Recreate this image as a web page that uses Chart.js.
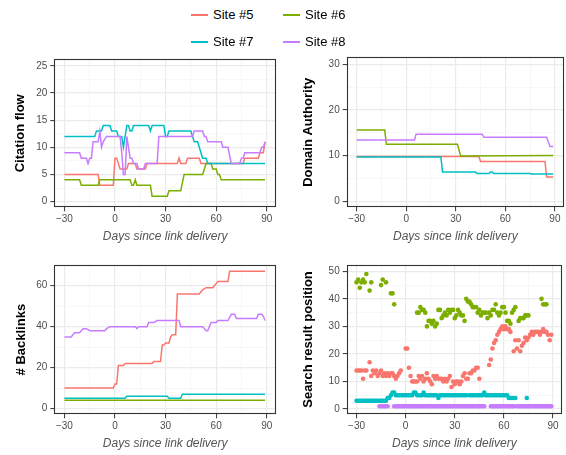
<!DOCTYPE html>
<html>
<head>
<meta charset="utf-8">
<script src="https://cdn.jsdelivr.net/npm/chart.js@4.4.1/dist/chart.umd.min.js"></script>
<style>
  body { margin: 0; background: #fff; }
  #wrap { position: relative; width: 566px; height: 455px; font-family: 'Liberation Sans', Arial, sans-serif; }
  canvas { position: absolute; }
  .key { position: absolute; font-size: 13px; line-height: 16px; color: #000; white-space: nowrap; z-index: 2; }
  .key i { position: absolute; left: 0; top: 7px; width: 17px; height: 2px; }
</style>
</head>
<body>
<div id="wrap">
  <div id="legend"></div>
  <canvas id="cf" width="283" height="205" style="left:0;top:45px"></canvas>
  <canvas id="da" width="283" height="205" style="left:283px;top:45px"></canvas>
  <canvas id="bl" width="283" height="205" style="left:0;top:250px"></canvas>
  <canvas id="sr" width="283" height="205" style="left:283px;top:250px"></canvas>
</div>
<script>
// sites and their colours
const sites = ['Site #5', 'Site #6', 'Site #7', 'Site #8'];
const siteColors = ['#F8766D', '#7CAE00', '#00BFC4', '#C77CFF'];

// x axis: days since link delivery
const dayTicks = [-30, -15, 0, 15, 30, 45, 60, 75, 90];
const dayLabels = [-30, 0, 30, 60, 90];

// y axis ticks per panel (labels = major ticks)
const cfTicks = [0, 2.5, 5, 7.5, 10, 12.5, 15, 17.5, 20, 22.5, 25];
const cfLabels = [0, 5, 10, 15, 20, 25];
const daTicks = [0, 5, 10, 15, 20, 25, 30];
const daLabels = [0, 10, 20, 30];
const blTicks = [0, 10, 20, 30, 40, 50, 60];
const blLabels = [0, 20, 40, 60];
const srTicks = [0, 5, 10, 15, 20, 25, 30, 35, 40, 45, 50];
const srLabels = [0, 10, 20, 30, 40, 50];

// Citation flow, [day, value] where the value changes
const cfSite5 = [[-30,5],[-10,5],[-9,3],[-1,3],[0,8],[1,8],[3,6],[7,6],[8,7],[12,7],[13,6],[18,6],[19,7],[37,7],[38,8],[39,7],[42,7],[43,8],[50,8],[51,7],[76,7],[77,8],[85,8],[86,9],[88,9],[89,11]];
const cfSite6 = [[-30,4],[-21,4],[-20,3],[-10,3],[-9,4],[9,4],[10,3],[11,3],[12,4],[13,3],[21,3],[22,1],[31,1],[32,2],[39,2],[41,5],[52,5],[54,7],[57,7],[58,6],[60,6],[61,5],[62,5],[63,4],[89,4]];
const cfSite7 = [[-30,12],[-12,12],[-11,13],[-8,13],[-7,14],[-3,14],[-2,13],[1,13],[2,12],[4,12],[5,10],[7,14],[8,14],[9,13],[10,13],[11,14],[20,14],[21,13],[22,14],[29,14],[30,12],[31,12],[32,13],[45,13],[46,12],[47,11],[49,11],[50,10],[51,9],[52,8],[54,8],[55,7],[89,7]];
const cfSite8 = [[-30,9],[-21,9],[-20,8],[-17,8],[-16,7],[-15,8],[-14,8],[-13,11],[-10,11],[-9,13],[-8,10],[-7,11],[-5,12],[3,12],[4,9],[5,5],[6,5],[7,12],[8,10],[9,8],[10,8],[11,7],[13,7],[14,6],[17,6],[18,7],[25,7],[26,12],[46,12],[47,13],[52,13],[53,12],[54,12],[55,11],[63,11],[64,10],[67,10],[69,7],[74,7],[75,8],[76,8],[77,9],[86,9],[87,10],[88,10],[89,11]];

// Domain Authority
const daSite5 = [[-30,9.8],[44,9.8],[45,8.7],[84,8.7],[85,5.3],[89,5.3]];
const daSite6 = [[-30,15.6],[-13,15.6],[-12,12.5],[31,12.5],[33,9.9],[89,10]];
const daSite7 = [[-30,9.7],[21,9.7],[22,6.4],[42,6.4],[43,6.1],[50,6.1],[51,6.4],[52,6.4],[53,6.1],[75,6.1],[76,6.0],[89,6.0]];
const daSite8 = [[-30,13.4],[5,13.4],[6,14.7],[46,14.7],[47,14.0],[85,14.0],[87,12.0],[89,12.0]];

// # Backlinks
const blSite5 = [[-30,10],[-1,10],[0,12],[1,12],[2,21],[5,21],[6,22],[22,22],[23,23],[27,23],[28,31],[29,31],[30,32],[32,32],[33,35],[34,36],[36,36],[37,56],[50,56],[51,57],[52,58],[54,59],[58,59],[59,60],[60,61],[61,62],[67,62],[68,67],[89,67]];
const blSite6 = [[-30,4],[89,4]];
const blSite7 = [[-30,5],[6,5],[7,6],[31,6],[32,5],[39,5],[40,7],[89,7]];
const blSite8 = [[-30,35],[-26,35],[-24,37],[-21,37],[-19,39],[-17,39],[-15,38],[-6,38],[-5,39],[-3,40],[12,40],[13,39],[14,40],[19,40],[20,42],[23,42],[25,43],[38,43],[39,40],[52,40],[54,38],[55,38],[57,42],[60,42],[61,43],[67,43],[69,46],[71,46],[72,44],[84,44],[85,46],[87,46],[88,45],[89,43]];

// Search result position, one value per day (null = no reading)
const days = [
  -30,-29,-28,-27,-26,-25,-24,-23,-22,-21,
  -20,-19,-18,-17,-16,-15,-14,-13,-12,-11,
  -10,-9,-8,-7,-6,-5,-4,-3,-2,-1,
  0,1,2,3,4,5,6,7,8,9,
  10,11,12,13,14,15,16,17,18,19,
  20,21,22,23,24,25,26,27,28,29,
  30,31,32,33,34,35,36,37,38,39,
  40,41,42,43,44,45,46,47,48,49,
  50,51,52,53,54,55,56,57,58,59,
  60,61,62,63,64,65,66,67,68,69,
  70,71,72,73,74,75,76,77,78,79,
  80,81,82,83,84,85,86,87,88,89
];
const srSite5 = [
  14,14,14,14,11,14,14,null,17,12,
  14,13,14,12,13,14,12,13,12,13,
  12,13,13,12,11,12,13,14,null,null,
  22,22,15,12,10,10,10,10,12,11,
  12,10,11,13,11,10,9,12,11,12,
  11,11,11,10,11,10,11,12,8,10,
  9,10,10,9,10,12,13,11,11,13,
  13,14,14,15,15,11,null,null,null,null,
  null,16,18,22,24,25,27,28,29,30,
  29,30,29,29,28,null,21,25,22,25,
  21,23,24,26,25,26,27,28,27,28,
  28,28,27,28,29,28,28,27,25,27
];
const srSite6 = [
  46,47,44,46,47,46,49,null,43,46,
  null,null,null,null,null,45,47,null,46,null,
  null,42,42,38,null,null,null,null,null,null,
  null,null,null,null,null,null,null,35,35,37,
  36,36,35,30,32,32,31,32,30,31,
  36,36,33,34,35,34,36,35,36,36,
  33,34,36,35,34,34,32,40,39,39,
  38,37,37,37,35,36,34,35,35,35,
  33,35,34,36,36,38,35,34,35,37,
  37,35,32,32,31,35,36,37,null,32,
  33,33,33,34,34,34,null,null,null,null,
  null,null,null,40,38,38,38,null,null,null
];
const srSite7 = [
  3,3,3,3,3,3,3,3,3,3,
  3,3,3,3,3,3,3,3,3,4,
  4,5,6,6,5,5,5,5,5,5,
  5,5,5,5,5,6,6,5,5,5,
  5,6,5,5,5,5,5,5,5,5,
  4,5,5,5,5,5,5,5,5,5,
  5,5,5,5,5,5,5,5,null,5,
  5,5,5,5,5,5,5,5,6,5,
  5,5,5,5,5,5,5,5,5,5,
  5,5,5,4,4,4,4,4,null,null,
  null,null,null,null,4,null,null,null,null,null,
  null,null,null,null,null,null,null,null,null,null
];
const srSite8 = [
  null,null,null,null,null,null,null,null,null,null,
  null,null,null,null,1,1,1,1,1,1,
  null,null,null,1,1,1,1,1,1,1,
  1,1,1,1,1,1,1,1,1,1,
  1,1,1,1,1,1,1,1,1,1,
  1,1,1,1,1,1,1,1,1,1,
  1,1,1,1,1,1,1,1,1,1,
  1,1,1,1,1,1,1,1,1,null,
  null,null,1,1,1,1,1,1,1,1,
  1,1,1,1,1,1,1,null,1,1,
  1,1,1,1,1,1,1,1,1,1,
  1,1,1,1,1,1,1,1,1,1
];

Chart.defaults.font.family = "'Liberation Sans', Arial, sans-serif";

// legend, 2 x 2 like the original
const legend = document.getElementById('legend');
sites.forEach((name, i) => {
  const el = document.createElement('div');
  el.className = 'key';
  el.style.left = [191, 283][i % 2] + 'px';
  el.style.top = [7, 34][Math.floor(i / 2)] + 'px';
  el.style.paddingLeft = '22px';
  el.innerHTML = '<i style="background:' + siteColors[i] + '"></i>' + name;
  legend.appendChild(el);
});

function fmt(v) {
  return v < 0 ? '\u2212' + Math.abs(v) : String(v);
}

// full panel border (theme_bw style)
const panelBox = {
  id: 'panelBox',
  afterDraw(chart) {
    const { ctx, chartArea: a } = chart;
    const l = Math.round(a.left) + 0.5, t = Math.round(a.top) + 0.5;
    const r = Math.round(a.right) - 0.5, b = Math.round(a.bottom) - 0.5;
    ctx.save();
    ctx.strokeStyle = '#333333';
    ctx.lineWidth = 1.1;
    ctx.strokeRect(l, t, r - l, b - t);
    ctx.restore();
  }
};

function gridFor(labels) {
  return {
    color: c => (c.tick && labels.includes(c.tick.value)) ? '#EBEBEB' : '#F3F3F3',
    lineWidth: c => (c.tick && labels.includes(c.tick.value)) ? 1.2 : 0.7,
    tickColor: c => (c.tick && labels.includes(c.tick.value)) ? '#333333' : 'rgba(0,0,0,0)',
    tickLength: 4,
    tickWidth: 1
  };
}

function lineSets(series) {
  return series.map((pts, i) => ({
    label: sites[i],
    data: pts.map(([x, y]) => ({ x, y })),
    borderColor: siteColors[i],
    borderWidth: 1.5,
    pointRadius: 0,
    tension: 0,
    fill: false,
    order: sites.length - i
  }));
}

function pointSets(series) {
  return series.map((vals, i) => ({
    label: sites[i],
    data: days.map((d, k) => ({ x: d, y: vals[k] })).filter(p => p.y !== null),
    showLine: false,
    pointRadius: 2.3,
    pointBackgroundColor: siteColors[i],
    pointBorderColor: siteColors[i],
    pointBorderWidth: 0,
    order: sites.length - i
  }));
}

function makePanel(id, datasets, p) {
  return new Chart(document.getElementById(id), {
    type: 'line',
    data: { datasets },
    options: {
      responsive: false,
      animation: false,
      layout: { padding: { left: 0, top: p.top, right: p.right, bottom: 0 } },
      plugins: { legend: { display: false }, tooltip: { enabled: false } },
      scales: {
        x: {
          type: 'linear',
          min: -36,
          max: 95.5,
          afterBuildTicks: s => { s.ticks = dayTicks.map(v => ({ value: v })); },
          afterFit: s => { s.height = p.xH; },
          border: { display: false },
          grid: gridFor(dayLabels),
          ticks: {
            autoSkip: false, maxRotation: 0, padding: 2,
            color: '#4D4D4D', font: { size: 10 },
            callback: v => dayLabels.includes(v) ? fmt(v) : ''
          },
          title: {
            display: true, text: 'Days since link delivery', color: '#555555',
            font: { size: 12, style: 'italic' }, padding: { top: 0, bottom: p.xPad }
          }
        },
        y: {
          type: 'linear',
          min: p.yMin,
          max: p.yMax,
          afterBuildTicks: s => { s.ticks = p.yTicks.map(v => ({ value: v })); },
          afterFit: s => { s.width = p.yW; },
          border: { display: false },
          grid: gridFor(p.yLabels),
          ticks: {
            autoSkip: false, padding: 3,
            color: '#4D4D4D', font: { size: 10 },
            callback: v => p.yLabels.includes(v) ? fmt(v) : ''
          },
          title: {
            display: true, text: p.yTitle, color: '#000000',
            font: { size: 13, weight: 'bold' }, padding: { top: p.yPad, bottom: 0 }
          }
        }
      }
    },
    plugins: [panelBox]
  });
}

makePanel('cf', lineSets([cfSite5, cfSite6, cfSite7, cfSite8]), {
  top: 14.3, right: 7, xH: 42.7, yW: 54.3, xPad: 6, yPad: 12.7,
  yMin: -1.05, yMax: 26.2, yTicks: cfTicks, yLabels: cfLabels, yTitle: 'Citation flow'
});
makePanel('da', lineSets([daSite5, daSite6, daSite7, daSite8]), {
  top: 12.3, right: 2, xH: 42.7, yW: 63.7, xPad: 6, yPad: 17.5,
  yMin: -1.3, yMax: 31.5, yTicks: daTicks, yLabels: daLabels, yTitle: 'Domain Authority'
});
makePanel('bl', lineSets([blSite5, blSite6, blSite7, blSite8]), {
  top: 15, right: 7, xH: 40.7, yW: 54.3, xPad: 4, yPad: 13.5,
  yMin: -2.8, yMax: 70.1, yTicks: blTicks, yLabels: blLabels, yTitle: '# Backlinks'
});
makePanel('sr', pointSets([srSite5, srSite6, srSite7, srSite8]), {
  top: 14.7, right: 2, xH: 40.7, yW: 63.7, xPad: 4, yPad: 17.2,
  yMin: -1.9, yMax: 52.4, yTicks: srTicks, yLabels: srLabels, yTitle: 'Search result position'
});
</script>
</body>
</html>
